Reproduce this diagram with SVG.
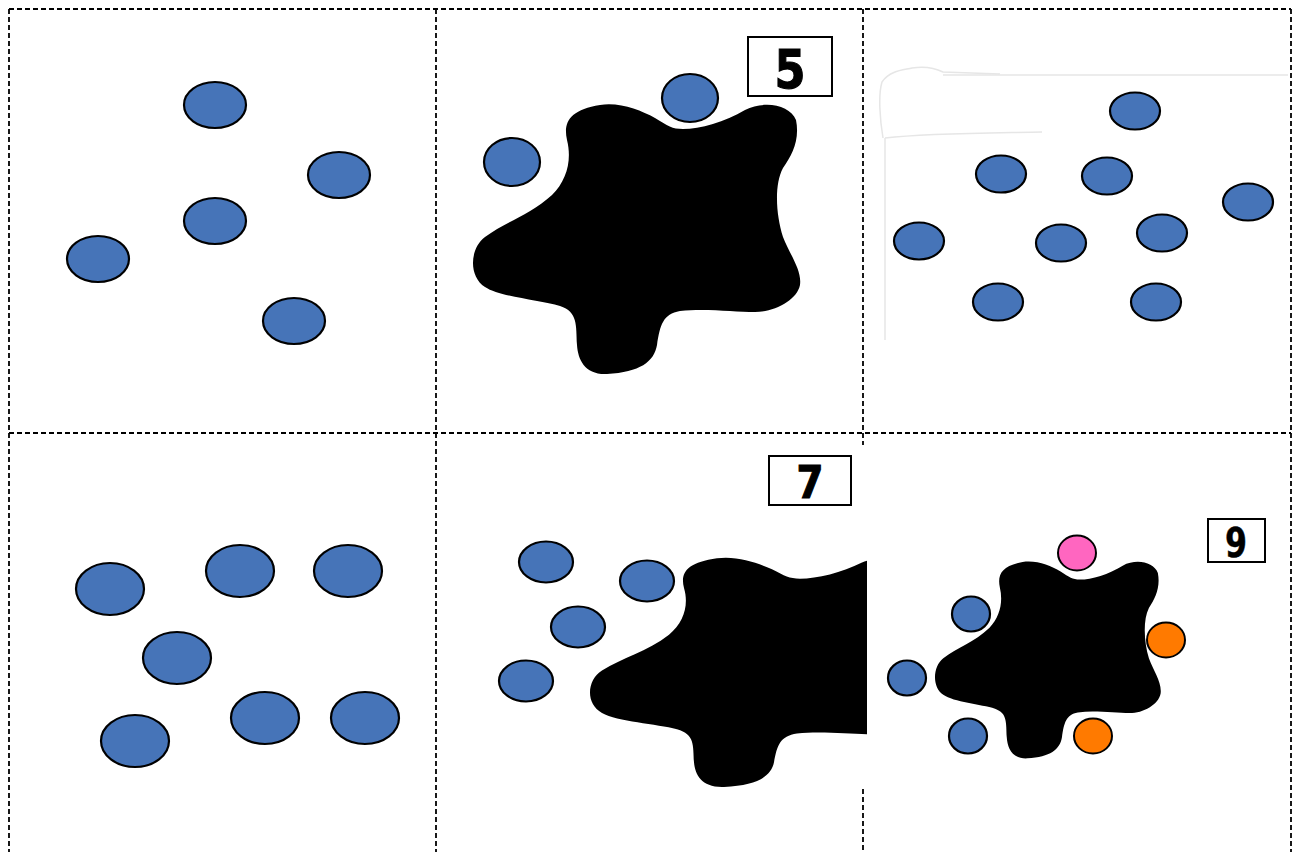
<svg xmlns="http://www.w3.org/2000/svg" width="1293" height="852" viewBox="0 0 1293 852">
<style>
.grid{stroke:#000;stroke-width:1.8;stroke-dasharray:5 3;fill:none}
.b{fill:#4674B8;stroke:#000;stroke-width:2.2}
.pk{fill:#FF66C0;stroke:#000;stroke-width:2}
.or{fill:#FF7A00;stroke:#000;stroke-width:2}
.blob{fill:#000}
.box{fill:#fff;stroke:#000;stroke-width:2}
.num{font-family:"DejaVu Sans","Liberation Sans",sans-serif;font-weight:bold;text-anchor:middle;fill:#000;stroke:#000}
.faint{fill:none;stroke:#e6e6e6;stroke-width:1.5}
</style>
<defs>
<path id="blobShape" d="M552,195 C567,180 572,160 567,140 C563,122 570,110 600,105 C620,102 640,110 655,118 C668,126 672,129 683,129 C700,129 725,122 745,110 C765,100 790,105 796,120 C800,140 792,155 783,168 C774,185 776,215 783,237 C790,255 802,270 800,285 C797,300 775,312 755,312 C735,312 705,308 680,311 C663,314 660,325 657,345 C654,362 640,372 607,374 C585,375 578,360 577,345 C576,325 578,312 560,306 C540,300 500,297 485,287 C468,276 470,248 485,237 C505,222 530,215 552,195 Z"/>
<clipPath id="clip5"><rect x="430" y="440" width="437" height="400"/></clipPath>
</defs>
<rect width="1293" height="852" fill="#fff"/>

<g id="panel3-frame">
<path class="faint" d="M943,75 L1288,75"/>
<path class="faint" stroke="#d9d9d9" d="M885,138 L885,340"/>
<path class="faint" stroke="#f3f3f3" d="M883,138 C880,120 878,95 882,82 C890,70 905,70 912,68 C925,66 935,68 943,72 L1000,74 M885,138 C930,133 1000,133 1042,132"/>
</g>

<g id="grid">
<path class="grid" d="M9,9 H1291 M9,433 H1291 M9,9 V852 M436,9 V852 M1291,9 V852 M863,9 V445 M863,789 V852"/>
</g>

<g id="panel1">
<ellipse class="b" cx="215" cy="105" rx="31" ry="23"/>
<ellipse class="b" cx="339" cy="175" rx="31" ry="23"/>
<ellipse class="b" cx="215" cy="221" rx="31" ry="23"/>
<ellipse class="b" cx="98" cy="259" rx="31" ry="23"/>
<ellipse class="b" cx="294" cy="321" rx="31" ry="23"/>
</g>

<g id="panel2">
<use href="#blobShape" class="blob"/>
<ellipse class="b" cx="512" cy="162" rx="28" ry="24"/>
<ellipse class="b" cx="690" cy="98" rx="28" ry="24"/>
<rect class="box" x="748" y="37" width="84" height="59"/>
<text class="num" x="790" y="88" font-size="54" stroke-width="1.2" textLength="31" lengthAdjust="spacingAndGlyphs">5</text>
</g>

<g id="panel3">
<ellipse class="b" cx="1135" cy="111" rx="25" ry="18.5"/>
<ellipse class="b" cx="1001" cy="174" rx="25" ry="18.5"/>
<ellipse class="b" cx="1107" cy="176" rx="25" ry="18.5"/>
<ellipse class="b" cx="1248" cy="202" rx="25" ry="18.5"/>
<ellipse class="b" cx="919" cy="241" rx="25" ry="18.5"/>
<ellipse class="b" cx="1061" cy="243" rx="25" ry="18.5"/>
<ellipse class="b" cx="1162" cy="233" rx="25" ry="18.5"/>
<ellipse class="b" cx="998" cy="302" rx="25" ry="18.5"/>
<ellipse class="b" cx="1156" cy="302" rx="25" ry="18.5"/>
</g>

<g id="panel4">
<ellipse class="b" cx="110" cy="589" rx="34" ry="26"/>
<ellipse class="b" cx="240" cy="571" rx="34" ry="26"/>
<ellipse class="b" cx="348" cy="571" rx="34" ry="26"/>
<ellipse class="b" cx="177" cy="658" rx="34" ry="26"/>
<ellipse class="b" cx="135" cy="741" rx="34" ry="26"/>
<ellipse class="b" cx="265" cy="718" rx="34" ry="26"/>
<ellipse class="b" cx="365" cy="718" rx="34" ry="26"/>
</g>

<g id="panel5">
<g clip-path="url(#clip5)">
<use href="#blobShape" class="blob" transform="translate(590,560) scale(1,0.85) translate(-473,-107)"/>
</g>
<ellipse class="b" cx="546" cy="562" rx="27" ry="20.5"/>
<ellipse class="b" cx="647" cy="581" rx="27" ry="20.5"/>
<ellipse class="b" cx="578" cy="627" rx="27" ry="20.5"/>
<ellipse class="b" cx="526" cy="681" rx="27" ry="20.5"/>
<rect class="box" x="769" y="456" width="82" height="49"/>
<text class="num" x="810" y="498" font-size="45" stroke-width="1.2" textLength="27" lengthAdjust="spacingAndGlyphs">7</text>
</g>

<g id="panel6">
<use href="#blobShape" class="blob" transform="translate(935,562) scale(0.69,0.73) translate(-473,-105)"/>
<ellipse class="pk" cx="1077" cy="553" rx="19" ry="17.5"/>
<ellipse class="b" cx="971" cy="614" rx="19" ry="17.5"/>
<ellipse class="or" cx="1166" cy="640" rx="19" ry="17.5"/>
<ellipse class="b" cx="907" cy="678" rx="19" ry="17.5"/>
<ellipse class="b" cx="968" cy="736" rx="19" ry="17.5"/>
<ellipse class="or" cx="1093" cy="736" rx="19" ry="17.5"/>
<rect class="box" x="1208" y="519" width="57" height="43"/>
<text class="num" x="1236" y="557" font-size="40" stroke-width="0.5" textLength="22" lengthAdjust="spacingAndGlyphs">9</text>
</g>
</svg>
